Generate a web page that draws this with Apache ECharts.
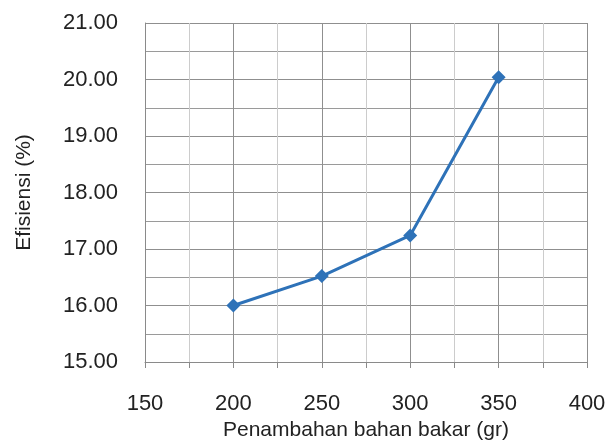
<!DOCTYPE html>
<html>
<head>
<meta charset="utf-8">
<script src="https://cdn.jsdelivr.net/npm/echarts@6/dist/echarts.min.js"></script>
<style>
  html, body { margin: 0; padding: 0; background: #ffffff; }
  #chart { width: 607px; height: 442px; }
</style>
</head>
<body>
<div id="chart"></div>
<script>
// bahan bakar (gr) vs efisiensi (%)
const fuelAdded = [200, 250, 300, 350]
const efficiency = [16.0, 16.52, 17.24, 20.04]

const fontFamily = '"Liberation Sans", Arial, sans-serif'
const chart = echarts.init(document.getElementById('chart'))

chart.setOption({
  backgroundColor: '#ffffff',
  grid: {
    left: 145,
    right: 20,
    top: 23,
    bottom: 80,
    outerBoundsMode: 'none'
  },
  xAxis: {
    type: 'value',
    min: 150,
    max: 400,
    interval: 50,
    name: 'Penambahan bahan bakar (gr)',
    nameLocation: 'middle',
    nameGap: 58,
    nameTextStyle: { fontFamily, fontSize: 21, color: '#222' },
    axisLine: { show: true, lineStyle: { color: '#8a8a8a', width: 1 } },
    axisTick: { show: true, length: 6, lineStyle: { color: '#8a8a8a' } },
    minorTick: { show: true, splitNumber: 2, length: 6, lineStyle: { color: '#8a8a8a' } },
    axisLabel: { fontFamily, fontSize: 22, color: '#222', margin: 31 },
    splitLine: { show: true, lineStyle: { color: '#8f8f8f', width: 1 } },
    minorSplitLine: { show: true, lineStyle: { color: '#cccccc', width: 1 } }
  },
  yAxis: {
    type: 'value',
    min: 15,
    max: 21,
    interval: 1,
    name: 'Efisiensi (%)',
    nameLocation: 'middle',
    nameGap: 110,
    nameTextStyle: { fontFamily, fontSize: 21, color: '#222' },
    axisLine: { show: true, lineStyle: { color: '#8a8a8a', width: 1 } },
    axisTick: { show: false },
    axisLabel: {
      fontFamily,
      fontSize: 22,
      color: '#222',
      margin: 27,
      formatter: v => v.toFixed(2)
    },
    splitLine: { show: true, lineStyle: { color: '#8f8f8f', width: 1 } },
    minorTick: { show: false, splitNumber: 2 },
    minorSplitLine: { show: true, lineStyle: { color: '#9a9a9a', width: 1 } }
  },
  series: [
    {
      type: 'line',
      data: fuelAdded.map((x, i) => [x, efficiency[i]]),
      symbol: 'diamond',
      symbolSize: 14,
      lineStyle: { color: '#2e72b8', width: 3 },
      itemStyle: { color: '#2e72b8' },
      animation: false
    }
  ]
})
</script>
</body>
</html>
